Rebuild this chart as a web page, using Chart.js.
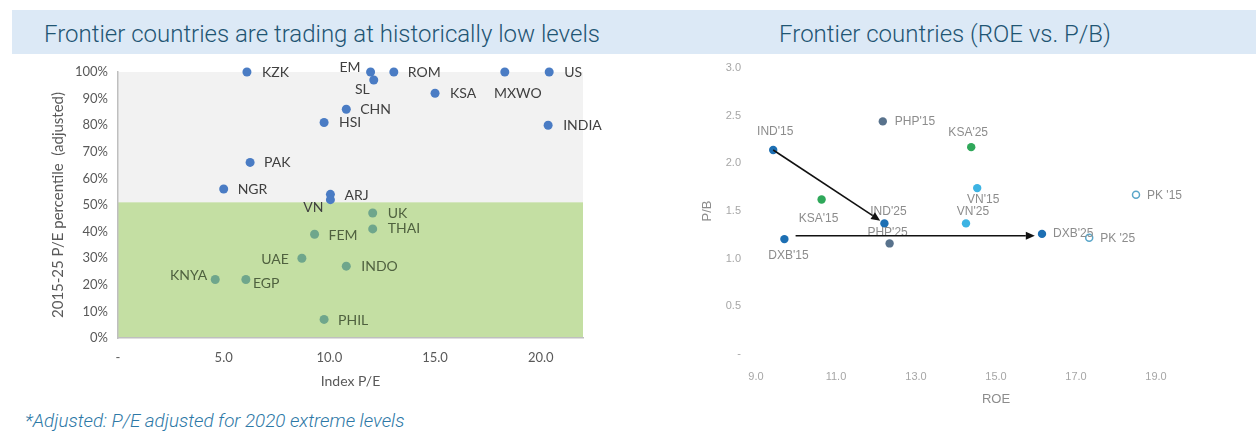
<!DOCTYPE html>
<html>
<head>
<meta charset="utf-8">
<script src="https://cdn.jsdelivr.net/npm/chart.js@4.4.1/dist/chart.umd.min.js"></script>
<style>
  body { margin: 0; width: 1256px; height: 433px; background: #fff; position: relative; overflow: hidden; }
  .band { position: absolute; left: 12px; top: 10px; width: 1244px; height: 44px; background: #dce9f6; }
  .title { position: absolute; top: 10px; height: 44px; line-height: 48px; text-align: center;
           font-family: Roboto, sans-serif; font-weight: 300; font-size: 24px; color: #1f5573; white-space: nowrap; }
  #t1 { left: 12px; width: 620px; }
  #t2 { left: 680px; width: 530px; }
  canvas { position: absolute; }
  #peChart { left: 0; top: 58px; }
  #roeChart { left: 680px; top: 58px; }
  .note { position: absolute; left: 25px; top: 410px; font-family: Roboto, sans-serif; font-weight: 300;
          font-style: italic; font-size: 18.8px; color: #2d78a6; white-space: nowrap; }
</style>
</head>
<body>
<div class="band"></div>
<div class="title" id="t1">Frontier countries are trading at historically low levels</div>
<div class="title" id="t2">Frontier countries (ROE vs. P/B)</div>
<canvas id="peChart" width="620" height="342"></canvas>
<canvas id="roeChart" width="576" height="350"></canvas>
<div class="note">*Adjusted: P/E adjusted for 2020 extreme levels</div>
<script>
// ---- left chart: P/E vs percentile ----
const peNames = ['KZK', 'EM', 'SL', 'ROM', 'MXWO', 'US', 'KSA', 'CHN', 'HSI', 'INDIA', 'PAK', 'NGR', 'ARJ', 'VN'];
const pe = [6.1, 11.95, 12.1, 13.05, 18.3, 20.4, 15.0, 10.8, 9.75, 20.35, 6.25, 5.0, 10.05, 10.05];
const pePct = [1.00, 1.00, 0.97, 1.00, 1.00, 1.00, 0.92, 0.86, 0.81, 0.80, 0.66, 0.56, 0.54, 0.52];

const cheapNames = ['UK', 'THAI', 'FEM', 'UAE', 'INDO', 'KNYA', 'EGP', 'PHIL'];
const cheapPe = [12.05, 12.05, 9.3, 8.7, 10.8, 4.6, 6.05, 9.75];
const cheapPct = [0.47, 0.41, 0.39, 0.30, 0.27, 0.22, 0.22, 0.07];

const peTicks = [0, 5, 10, 15, 20];
const pctTicks = [0, 10, 20, 30, 40, 50, 60, 70, 80, 90, 100];
const cheapLimit = 0.51;

// ---- right chart: ROE vs P/B ('15, '25) ----
const indRoe = [9.43, 12.21], indPb = [2.14, 1.37];
const phpRoe = [12.17, 12.34], phpPb = [2.44, 1.16];
const ksaRoe = [10.64, 14.38], ksaPb = [1.62, 2.17];
const vnRoe = [14.53, 14.25], vnPb = [1.74, 1.37];
const dxbRoe = [9.71, 16.15], dxbPb = [1.205, 1.26];
const pkRoe = [18.5, 17.33], pkPb = [1.67, 1.22];
const roeTicks = [9, 11, 13, 15, 17, 19];
const pbTicks = [0, 0.5, 1, 1.5, 2, 2.5, 3];
const arrowFrom = [[9.43, 2.14], [9.99, 1.24]];
const arrowTo = [[12.21, 1.37], [15.97, 1.24]];

const pts = (xs, ys) => xs.map((x, i) => ({ x: x, y: ys[i] }));

// label placement [dx, dy, align]
const peLabelPos = [[15, 0, 'left'], [-10, -5, 'right'], [-4, 10, 'right'], [14, 0, 'left'], [13, 21, 'center'],
  [15, 0, 'left'], [15, 0, 'left'], [14, 0, 'left'], [15, 0, 'left'], [15, 0, 'left'], [14, 0, 'left'],
  [14, 0, 'left'], [14, 1, 'left'], [-7, 8, 'right']];
const cheapLabelPos = [[15, 1, 'left'], [15, 0, 'left'], [14, 1, 'left'], [-13, 1, 'right'], [15, 0, 'left'],
  [-8, -4, 'right'], [7, 4, 'left'], [14, 1, 'left']];

const pointLabels = {
  id: 'pointLabels',
  afterDatasetsDraw(chart) {
    const ctx = chart.ctx;
    chart.data.datasets.forEach((ds, i) => {
      const meta = chart.getDatasetMeta(i);
      ctx.save();
      ctx.font = ds.labelFont;
      ctx.fillStyle = ds.labelColor;
      ctx.textBaseline = 'middle';
      meta.data.forEach((p, j) => {
        const o = ds.labelPos[j];
        ctx.textAlign = o[2];
        ctx.fillText(ds.names[j], p.x + o[0], p.y + o[1]);
      });
      ctx.restore();
    });
  }
};

const zones = {
  id: 'zones',
  beforeDraw(chart) {
    const { ctx, chartArea: a, scales: { y } } = chart;
    ctx.save();
    ctx.fillStyle = '#f2f2f2';
    ctx.fillRect(a.left, a.top, a.right - a.left, a.bottom - a.top);
    const g = y.getPixelForValue(cheapLimit);
    ctx.fillStyle = '#c4dfa3';
    ctx.fillRect(a.left, g, a.right - a.left, a.bottom - g);
    ctx.restore();
  }
};

// y axes: fixed width, and don't let tick padding push the plot area down
const fixY = w => s => { s.width = w; s.paddingTop = 6; s.paddingBottom = 6; };

const leftFont = { family: 'Lato', size: 13 };

new Chart(document.getElementById('peChart'), {
  type: 'scatter',
  data: {
    datasets: [{
      data: pts(pe, pePct),
      backgroundColor: '#4a7cc4',
      borderWidth: 0,
      pointRadius: 4.5,
      clip: false,
      names: peNames, labelPos: peLabelPos, labelColor: '#404040', labelFont: '14px Lato'
    }, {
      data: pts(cheapPe, cheapPct),
      backgroundColor: '#6fa68c',
      borderWidth: 0,
      pointRadius: 4.5,
      clip: false,
      names: cheapNames, labelPos: cheapLabelPos, labelColor: '#4f613f', labelFont: '14px Lato'
    }]
  },
  options: {
    responsive: false,
    animation: false,
    layout: { padding: { top: 14, right: 37, left: 0, bottom: 0 } },
    plugins: { legend: { display: false }, tooltip: { enabled: false } },
    scales: {
      x: {
        type: 'linear', min: 0, max: 22,
        afterBuildTicks: s => { s.ticks = peTicks.map(v => ({ value: v })); },
        afterFit: s => { s.height = 62; },
        ticks: { callback: v => v === 0 ? '-' : v.toFixed(1), font: leftFont, color: '#595959', padding: 12 },
        grid: { display: false, drawTicks: false },
        border: { display: true, color: '#bfbfbf', width: 1.5 },
        title: { display: true, text: 'Index P/E', font: { family: 'Lato', size: 14 }, color: '#595959',
                 padding: { top: 0, bottom: 10 } }
      },
      y: {
        min: 0, max: 1,
        afterBuildTicks: s => { s.ticks = pctTicks.map(v => ({ value: v / 100 })); },
        afterFit: fixY(118),
        ticks: { callback: v => Math.round(v * 100) + '%', font: leftFont, color: '#595959', padding: 10 },
        grid: { display: false, drawTicks: false },
        border: { display: true, color: '#bfbfbf', width: 1.5 },
        title: { display: true, text: '2015-25 P/E percentile  (adjusted)', font: { family: 'Lato', size: 15 },
                 color: '#595959', padding: { top: 49, bottom: 0 } }
      }
    }
  },
  plugins: [zones, pointLabels]
});

// ---- right chart ----
const arrows = {
  id: 'arrows',
  afterDatasetsDraw(chart) {
    const { ctx, scales: { x, y } } = chart;
    ctx.save();
    ctx.strokeStyle = '#111';
    ctx.fillStyle = '#111';
    ctx.lineWidth = 1.6;
    arrowFrom.forEach((f, i) => {
      const x0 = x.getPixelForValue(f[0]), y0 = y.getPixelForValue(f[1]);
      let x1 = x.getPixelForValue(arrowTo[i][0]), y1 = y.getPixelForValue(arrowTo[i][1]);
      const ang = Math.atan2(y1 - y0, x1 - x0);
      if (i === 0) { x1 -= 5 * Math.cos(ang); y1 -= 5 * Math.sin(ang); }
      const head = 9, hw = 4;
      const bx = x1 - head * Math.cos(ang), by = y1 - head * Math.sin(ang);
      ctx.beginPath();
      ctx.moveTo(x0, y0);
      ctx.lineTo(bx, by);
      ctx.stroke();
      ctx.beginPath();
      ctx.moveTo(x1, y1);
      ctx.lineTo(bx + hw * Math.sin(ang), by - hw * Math.cos(ang));
      ctx.lineTo(bx - hw * Math.sin(ang), by + hw * Math.cos(ang));
      ctx.closePath();
      ctx.fill();
    });
    ctx.restore();
  }
};

const rFont = 'Liberation Sans';
const rLabelFont = '12px "Liberation Sans"';
const rLabelColor = '#8c8c8c';
const group = (xs, ys, names, pos, color, hollow) => ({
  data: pts(xs, ys),
  backgroundColor: hollow ? '#ffffff' : color,
  borderColor: color,
  borderWidth: hollow ? 1.5 : 0,
  pointRadius: hollow ? 3.5 : 4.2,
  clip: false,
  names: names, labelPos: pos, labelColor: rLabelColor, labelFont: rLabelFont
});

new Chart(document.getElementById('roeChart'), {
  type: 'scatter',
  data: {
    datasets: [
      group(indRoe, indPb, ["IND'15", "IND'25"], [[2, -18, 'center'], [4, -12, 'center']], '#1d6fb3'),
      group(phpRoe, phpPb, ["PHP'15", "PHP'25"], [[12, 0, 'left'], [-2, -11, 'center']], '#58728c'),
      group(ksaRoe, ksaPb, ["KSA'15", "KSA'25"], [[-3, 19, 'center'], [-3, -14, 'center']], '#2fa85a'),
      group(vnRoe, vnPb, ["VN'15", "VN'25"], [[6, 12, 'center'], [7, -12, 'center']], '#3cb3e3'),
      group(dxbRoe, dxbPb, ["DXB'15", "DXB'25"], [[4, 17, 'center'], [11, 0, 'left']], '#1d6fb3'),
      group(pkRoe, pkPb, ["PK '15", "PK '25"], [[11, 1, 'left'], [11, 1, 'left']], '#5aa6c9', true)
    ]
  },
  options: {
    responsive: false,
    animation: false,
    layout: { padding: { top: 10, right: 20, left: 0, bottom: 0 } },
    plugins: { legend: { display: false }, tooltip: { enabled: false } },
    scales: {
      x: {
        type: 'linear', min: 9, max: 21,
        afterBuildTicks: s => { s.ticks = roeTicks.map(v => ({ value: v })); },
        afterFit: s => { s.height = 54; },
        ticks: { callback: v => v.toFixed(1), font: { family: rFont, size: 11 }, color: '#a6a6a6', padding: 16 },
        grid: { display: false, drawTicks: false },
        border: { display: false },
        title: { display: true, text: 'ROE', font: { family: rFont, size: 13 }, color: '#8c8c8c',
                 padding: { top: 0, bottom: 1 } }
      },
      y: {
        min: 0, max: 3,
        afterBuildTicks: s => { s.ticks = pbTicks.map(v => ({ value: v })); },
        afterFit: fixY(76),
        ticks: { callback: v => v === 0 ? '-' : v.toFixed(1), font: { family: rFont, size: 11 }, color: '#a6a6a6', padding: 15 },
        grid: { display: false, drawTicks: false },
        border: { display: false },
        title: { display: true, text: 'P/B', font: { family: rFont, size: 13 }, color: '#8c8c8c',
                 padding: { top: 20, bottom: 0 } }
      }
    }
  },
  plugins: [pointLabels, arrows]
});
</script>
</body>
</html>
